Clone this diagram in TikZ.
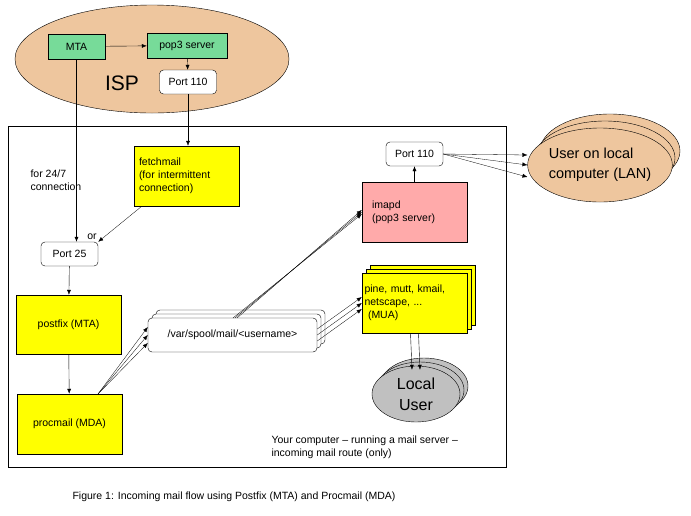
\documentclass[tikz,border=0pt]{standalone}
\usepackage{fontspec}
\setmainfont{Liberation Sans}
\usetikzlibrary{arrows.meta,shapes.geometric}
\definecolor{isp}{HTML}{EEC69E}
\definecolor{grn}{HTML}{77DB99}
\definecolor{ylw}{HTML}{FFFF00}
\definecolor{pnk}{HTML}{FFAAAA}
\definecolor{gry}{HTML}{C0C0C0}
\begin{document}
\begin{tikzpicture}[x=1pt,y=-1pt,
  txt/.style={font=\fontsize{10.5}{13}\selectfont},
  box/.style={draw,txt,inner sep=0pt,align=left},
  port/.style={draw,fill=white,rounded corners=4pt,txt,minimum width=57pt,minimum height=24pt,inner sep=0pt},
  arr/.style={-{Latex[length=5pt,width=4pt]}},
  thin arr/.style={-{Latex[length=5pt,width=4pt]},line width=0.3pt}]
\useasboundingbox (0,0) rectangle (691,515);
\fill[white] (0,0) rectangle (691,515);
% ISP
\node[ellipse,draw,fill=isp,minimum width=274pt,minimum height=108pt] (ispe) at (152,59) {};
\node[font=\fontsize{21}{24}\selectfont] (isp) at (122,83) {ISP};
\node[box,fill=grn,minimum width=57pt,minimum height=25pt,align=center] (mta) at (76.5,46.5) {MTA};
\node[box,fill=grn,minimum width=80pt,minimum height=25pt,align=center] (pop) at (187,45.5) {pop3 server};
\node[port] (p110) at (188,82) {Port 110};
% frame
\draw (8,126) rectangle (506,467);
\node[box,fill=ylw,minimum width=105pt,minimum height=60pt,text width=95pt] (fetch) at (186.5,176) {fetchmail\\(for intermittent\\connection)};
\node[txt,align=left,anchor=west] (c247) at (27,180) {for 24/7\\connection};
\node[port] (p25) at (69.5,254) {Port 25};
\node[txt] (or) at (92,237) {or};
\node[box,fill=ylw,minimum width=105pt,minimum height=59pt,align=center] (postfix) at (68.5,324.5) {postfix (MTA)};
\node[box,fill=ylw,minimum width=105pt,minimum height=60pt,align=center] (procmail) at (69.5,424) {procmail (MDA)};
% spool stack
\foreach \d in {8,4}{\draw[fill=white,rounded corners=4pt] (148+\d,318-\d) rectangle (317+\d,352-\d);}
\node[draw,fill=white,rounded corners=4pt,minimum width=169pt,minimum height=34pt,txt,inner sep=0pt] (spool) at (232.5,335) {/var/spool/mail/<username>};
% imapd
\node[box,fill=pnk,minimum width=105pt,minimum height=60pt,text width=85pt] (imapd) at (414.5,212) {imapd\\(pop3 server)};
\node[port] (p110b) at (414.5,154) {Port 110};
% MUA stack
\foreach \d in {8,4}{\draw[fill=ylw] (362+\d,273-\d) rectangle (467+\d,333-\d);}
\node[box,fill=ylw,minimum width=105pt,minimum height=60pt,text width=100pt] (mua) at (414.5,303) {pine, mutt, kmail,\\netscape, ...\\\ (MUA)};
% local user stack
\foreach \d in {8,4}{\draw[fill=gry] (416+\d,394-\d) ellipse [x radius=44, y radius=28];}
\node[ellipse,draw,fill=gry,minimum width=88pt,minimum height=56pt,inner sep=0pt,align=center,font=\fontsize{16}{21}\selectfont] (lu) at (416,394) {Local\\User};
% LAN user stack
\foreach \d in {2,1}{\draw[fill=isp] (600+5*\d,165-7*\d) ellipse [x radius=70, y radius=37];}
\node[ellipse,draw,fill=isp,minimum width=140pt,minimum height=74pt,inner sep=0pt,align=left,font=\fontsize{14.5}{20}\selectfont] (lan) at (600,165) {User on local\\computer (LAN)};
% texts
\node[txt,align=left,anchor=north west] (yc) at (268,432) {Your computer -- running a mail server --\\incoming mail route (only)};
\node[txt,anchor=west] (cap) at (69,497) {Figure 1: Incoming mail flow using Postfix (MTA) and Procmail (MDA)};
% connectors
\draw[arr] (mta) -- (pop);
\draw[arr] (pop) -- (p110);
\draw[arr] (p110) -- (fetch.north -| p110);
\draw[arr] (mta.south) -- (mta.south |- p25.north);
\draw[thin arr] (fetch.south west) ++(8,0) coordinate (fs) -- (p25.north east);
\draw[arr] (p25) -- (postfix);
\draw[arr] (postfix) -- (procmail);
\coordinate (pm) at (98,394);
\foreach \y in {-8,0,8}{\draw[thin arr] (pm) -- ([yshift=\y]spool.west);}
\coordinate (sp) at (235,318);
\foreach \x in {-2,0,2}{\draw[thin arr] ([xshift=\x]sp) -- ([yshift=\x]imapd.west);}
\foreach \y in {-6,0,6}{\draw[thin arr] ([yshift=\y]spool.east) -- ([yshift=\y]mua.west);}
\foreach \x in {-4,4}{\draw[arr] ([xshift=\x]mua.south) -- ([xshift=\x,yshift=-4]lu.north);}
\draw[arr] (imapd) -- (p110b);
\foreach \y in {-12,0,10}{\draw[thin arr] (p110b.east) -- ([yshift=\y]lan.west);}
\end{tikzpicture}
\end{document}
